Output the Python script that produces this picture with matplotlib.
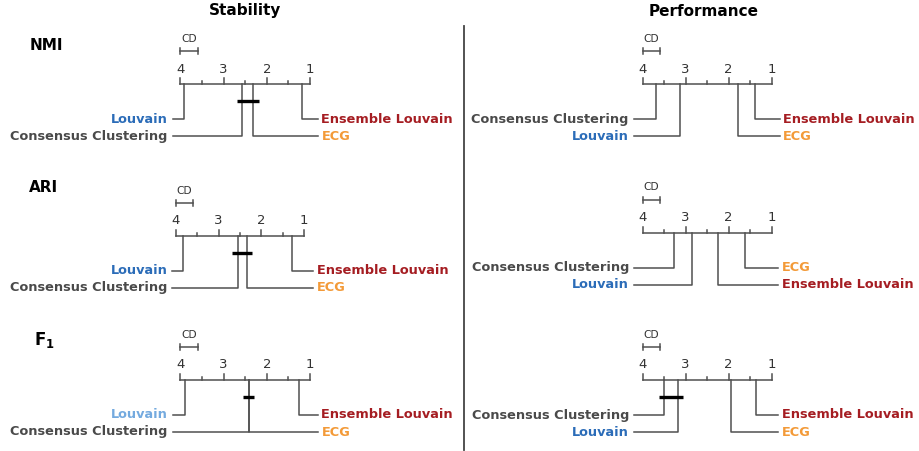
import numpy as np
import matplotlib
matplotlib.use("Agg")
import matplotlib.pyplot as plt

# average ranks (lower = better)
methods = ["Louvain", "Consensus Clustering", "ECG", "Ensemble Louvain"]
stab_nmi = [3.92, 2.57, 2.32, 1.19]
stab_ari = [3.83, 2.55, 2.34, 1.28]
stab_f1 = [3.90, 2.42, 2.42, 1.26]
perf_nmi = [3.13, 3.70, 1.78, 1.39]
perf_ari = [2.85, 3.28, 1.62, 2.25]
perf_f1 = [3.19, 3.50, 1.94, 1.37]
cd = 0.40

# groups joined by a clique bar (indices into methods)
cliques = {
    "stab_nmi": [(1, 2)],
    "stab_ari": [(1, 2)],
    "stab_f1": [(1, 2)],
    "perf_nmi": [],
    "perf_ari": [],
    "perf_f1": [(0, 1)],
}

colors = {
    "Louvain": "#2b6cb8",
    "Consensus Clustering": "#4a4a4a",
    "ECG": "#f39a38",
    "Ensemble Louvain": "#a51d22",
}
light_blue = "#74aadf"

W, H = 919, 451
fig = plt.figure(figsize=(W / 100, H / 100), dpi=100)

# panel layout: name, ranks, x of rank 4, x of rank 1, axis y, left/right line gap (px)
panels = [
    ("stab_nmi", stab_nmi, 180.5, 310.0, 84.5, 8, 8),
    ("stab_ari", stab_ari, 175.7, 304.3, 235.7, 3.5, 9),
    ("stab_f1", stab_f1, 180.5, 310.0, 380.0, 8, 8),
    ("perf_nmi", perf_nmi, 642.7, 771.7, 84.5, 9, 8),
    ("perf_ari", perf_ari, 642.7, 771.7, 232.5, 8.7, 6.6),
    ("perf_f1", perf_f1, 642.7, 771.7, 380.0, 8.7, 6.6),
]

line_c = "#505050"
top, bot = 50, 60

for name, ranks, x4, x1, ay, gl, gr in panels:
    ax = fig.add_axes([x4 / W, 1 - (ay + bot) / H, (x1 - x4) / W, (top + bot) / H])
    ax.set_xlim(4, 1)
    ax.set_ylim(bot, -top)
    ax.axis("off")
    ppr = (x1 - x4) / 3.0

    # main axis with ticks
    ax.plot([4, 1], [0, 0], color=line_c, lw=1.1, clip_on=False)
    for t in np.arange(1, 4.01, 0.5):
        h = 6 if t == int(t) else 3
        ax.plot([t, t], [0, -h], color=line_c, lw=1.1, clip_on=False)
    for t in [1, 2, 3, 4]:
        ax.text(t, -15, str(t), ha="center", va="center", fontsize=9.5, color="#333333")

    # CD bar
    ax.plot([4, 4 - cd], [-33, -33], color=line_c, lw=1.1, clip_on=False)
    for e in [4, 4 - cd]:
        ax.plot([e, e], [-36, -30], color=line_c, lw=1.1, clip_on=False)
    ax.text(4 - cd / 2, -45, "CD", ha="center", va="center", fontsize=7.7, color="#333333")

    # labels: worst two on the left, best two on the right
    order = np.argsort(-np.array(ranks), kind="stable")
    left = order[:2]
    right = order[2:][::-1]
    rows = [35, 52]
    lend = 4 + gl / ppr
    rend = 1 - gr / ppr
    for i, idx in enumerate(left):
        r = ranks[idx]
        ax.plot([r, r, lend], [0, rows[i], rows[i]], color=line_c, lw=1.1, clip_on=False)
        c = colors[methods[idx]]
        if name == "stab_f1" and methods[idx] == "Louvain":
            c = light_blue
        ax.annotate(methods[idx], xy=(lend, rows[i]), xytext=(-3.5, 0), textcoords="offset points",
                    ha="right", va="center", fontsize=9.3, fontweight="bold", color=c,
                    annotation_clip=False)
    for i, idx in enumerate(right):
        r = ranks[idx]
        ax.plot([r, r, rend], [0, rows[i], rows[i]], color=line_c, lw=1.1, clip_on=False)
        ax.annotate(methods[idx], xy=(rend, rows[i]), xytext=(2.5, 0), textcoords="offset points",
                    ha="left", va="center", fontsize=9.3, fontweight="bold", color=colors[methods[idx]],
                    annotation_clip=False)

    for a, b in cliques[name]:
        lo = max(ranks[a], ranks[b]) + 0.13
        hi = min(ranks[a], ranks[b]) - 0.13
        ax.plot([lo, hi], [17, 17], color="black", lw=2.4, clip_on=False, solid_capstyle="butt")

# titles
fig.text(245 / W, 1 - 11 / H, "Stability", ha="center", va="center", fontsize=11, fontweight="bold")
fig.text(704 / W, 1 - 11 / H, "Performance", ha="center", va="center", fontsize=11, fontweight="bold")
fig.text(30 / W, 1 - 45 / H, "NMI", ha="left", va="center", fontsize=11, fontweight="bold")
fig.text(29 / W, 1 - 188 / H, "ARI", ha="left", va="center", fontsize=11, fontweight="bold")
fig.text(34 / W, 1 - 340 / H, r"$\mathbf{F_1}$", ha="left", va="center", fontsize=12)

# separator
fig.add_artist(plt.Line2D([463.5 / W, 463.5 / W], [1 - 26 / H, 1 - 450 / H], color="#444444", lw=1.3))

fig.savefig("out.png", dpi=100)
